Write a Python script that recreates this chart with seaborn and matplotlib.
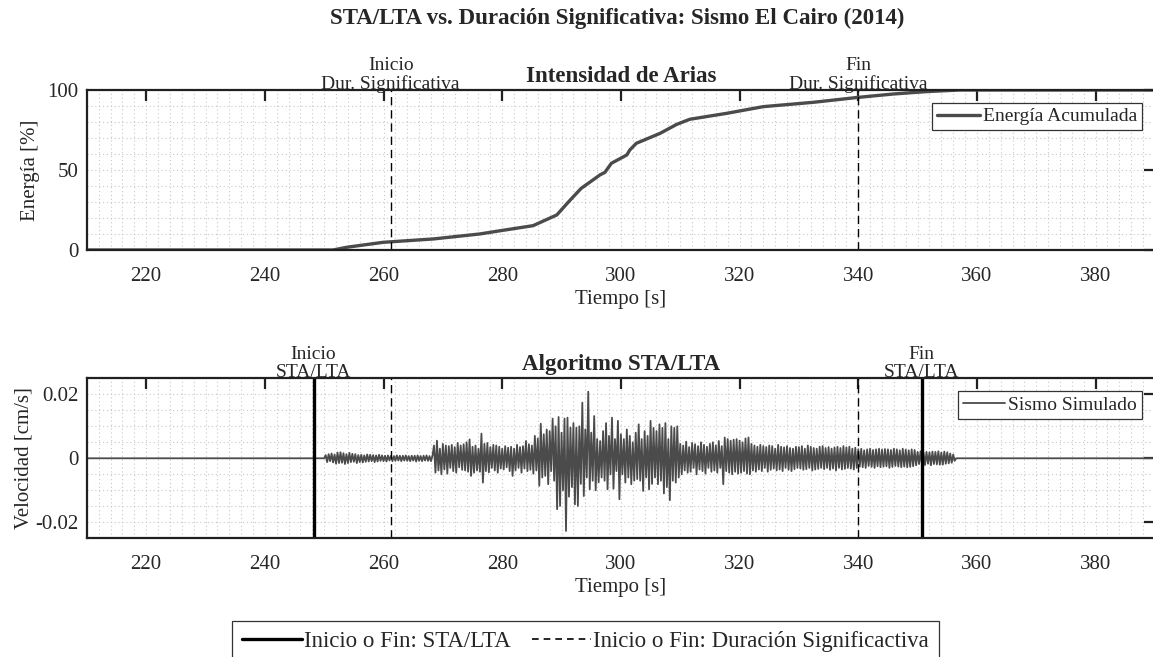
import numpy as np
import pandas as pd
import matplotlib
matplotlib.use("Agg")
import matplotlib.pyplot as plt
from matplotlib.ticker import MultipleLocator, FixedLocator
from matplotlib.lines import Line2D
import seaborn as sns

# ---------------------------------------------------------------------------
# Data
# ---------------------------------------------------------------------------
# Cumulative Arias intensity, % of total energy
energy_time = [210.0, 251.5, 253.8, 259.95, 268.4, 276.2, 279.6, 285.2, 289.2,
               291.4, 293.3, 295.3, 296.5, 297.3, 298.4, 301.0, 301.5, 302.6,
               306.6, 309.4, 311.6, 317.8, 324.0, 332.4, 340.0, 345.9, 351.5,
               357.1, 390.0]
energy_pct = [0.0, 0.0, 1.7, 4.8, 6.9, 10.0, 12.0, 15.2, 21.9,
              31.0, 38.5, 43.8, 47.0, 48.5, 54.2, 59.4, 62.5, 66.7,
              72.9, 78.5, 81.7, 85.4, 89.6, 92.3, 95.4, 97.5, 99.0,
              100.0, 100.0]

# Simulated ground velocity, samples every 0.25 s from 250 s (units of 1e-4 cm/s)
vel_start = 250.0
vel_step = 0.25
vel_250 = [0, 10, -12, 13, -9, 15, -13, 12, -17, 18, -15, 19, -14, 16, -18, 13, -15, 17, -12, 14,
           -11, 13, -15, 10, -12, 11, -13, 9, -11, 12, -10, 11, -9, 10, -12, 9, -10, 11, -8, 9]
vel_260 = [-9, 8, -10, 9, -7, 8, -9, 7, -8, 9, -7, 8, -9, 8, -7, 9, -8, 7, -9, 8,
           -7, 8, -10, 9, -8, 7, -9, 8, -7, 9, -8, 7, -9, 8, 40, -45, 55, -38, 30, -50]
vel_270 = [45, -35, 40, -48, 38, -30, 42, -40, 35, -45, 48, -28, 40, -36, 44, -38, 50, -42, 59, -55,
           36, -45, 40, -38, 30, -42, 77, -76, 45, -40, 48, -44, 35, -30, 42, -38, 40, -45, 36, -32]
vel_280 = [30, -35, 38, -28, 33, -40, 36, -55, 30, -38, 42, -30, 35, -45, 38, -32, 54, -40, 44, -36,
           40, -48, 70, -38, 62, -86, 108, -60, 75, -55, 90, -81, 85, -40, 124, -70, 100, -159, 129, -149]
vel_290 = [80, -100, 124, -227, 127, -120, 96, -90, 110, -144, 96, -149, 100, -80, 174, -118, 90, -60, 208, -97,
           80, -70, 132, -100, 60, -75, 54, -60, 85, -70, 110, -97, 70, -50, 127, -95, 60, -40, 117, -128]
vel_300 = [75, -50, 60, -76, 90, -60, 70, -81, 50, -70, 80, -65, 106, -70, 60, -102, 85, -60, 70, -97,
           117, -80, 95, -60, 85, -81, 106, -70, 95, -110, 110, -90, 60, -131, 100, -70, 95, -76, 100, -60]
vel_310 = [45, -50, 40, -38, 52, -45, 35, -42, 48, -30, 44, -50, 38, -35, 50, -40, 42, -48, 36, -30,
           45, -42, 50, -38, 40, -45, 54, -30, 38, -81, 65, -40, 60, -45, 55, -50, 58, -42, 60, -48]
vel_320 = [55, -45, 50, -40, 62, -48, 65, -50, 45, -38, 40, -42, 36, -35, 42, -40, 38, -30, 35, -42,
           40, -36, 38, -32, 30, -38, 42, -35, 36, -40, 34, -30, 38, -36, 32, -40, 30, -34, 36, -30]
vel_330 = [35, -32, 38, -36, 30, -34, 40, -30, 36, -38, 32, -35, 30, -33, 36, -30, 38, -34, 32, -30,
           35, -36, 30, -32, 34, -38, 36, -30, 32, -35, 38, -33, 34, -30, 36, -32, 30, -35, 33, -30]
vel_340 = [28, -26, 30, -28, 25, -30, 28, -24, 30, -27, 26, -30, 28, -25, 30, -28, 27, -26, 29, -25,
           28, -30, 26, -27, 30, -24, 28, -26, 25, -28, 30, -26, 27, -28, 25, -27, 28, -25, 26, -22]
vel_350 = [20, -18, 22, -20, 18, -21, 20, -17, 19, -22, 21, -18, 20, -19, 22, -20, 18, -20, 21, -17,
           19, -16, 15, -14, 12, -8]

# Event markers [s]
sta_lta_marks = [248.2, 350.7]
dur_sig_marks = [261.2, 340.0]
sta_lta_labels = ["Inicio\nSTA/LTA", "Fin\nSTA/LTA"]
dur_sig_labels = ["Inicio\nDur. Significativa", "Fin\nDur. Significativa"]

x_ticks = [220, 240, 260, 280, 300, 320, 340, 360, 380]
energy_ticks = [0, 50, 100]
vel_ticks = [-0.02, 0, 0.02]

# ---------------------------------------------------------------------------
# Assemble the velocity record (quiet before and after the event)
# ---------------------------------------------------------------------------
vel_samples = np.concatenate([vel_250, vel_260, vel_270, vel_280, vel_290, vel_300,
                              vel_310, vel_320, vel_330, vel_340, vel_350]) * 1e-4
vel_times = vel_start + vel_step * np.arange(len(vel_samples))
vel_df = pd.DataFrame({
    "t": np.concatenate([[210.0], vel_times, [vel_times[-1] + vel_step, 390.0]]),
    "v": np.concatenate([[0.0], vel_samples, [0.0, 0.0]]),
})
energy_df = pd.DataFrame({"t": energy_time, "e": energy_pct})

# ---------------------------------------------------------------------------
# Style
# ---------------------------------------------------------------------------
sns.set_theme(style="white")
plt.rcParams["font.family"] = ["Liberation Serif", "DejaVu Serif"]
plt.rcParams["axes.unicode_minus"] = False

LINE_COLOR = "#4b4b4b"
SPINE_COLOR = "#202020"
FS = 15

fig = plt.figure(figsize=(11.53, 6.57), dpi=100)
ax1 = fig.add_axes([0.0753, 0.6195, 0.9264, 0.2435])
ax2 = fig.add_axes([0.0753, 0.1807, 0.9264, 0.2435])


def style_axes(ax, ymajor, yminor):
    ax.set_xlim(210, 390)
    ax.xaxis.set_major_locator(FixedLocator(x_ticks))
    ax.xaxis.set_minor_locator(MultipleLocator(2))
    ax.yaxis.set_major_locator(FixedLocator(ymajor))
    ax.yaxis.set_minor_locator(MultipleLocator(yminor))
    ax.set_axisbelow(True)
    ax.grid(which="both", linestyle=(0, (1, 2.5)), color="#c8c8c8", linewidth=0.8)
    ax.tick_params(which="major", direction="in", length=8, width=1.6,
                   color=SPINE_COLOR, top=True, right=True, labelsize=FS)
    ax.tick_params(axis="x", which="major", pad=12)
    ax.tick_params(axis="y", which="major", pad=6)
    ax.tick_params(which="minor", length=0, top=True, right=True)
    for sp in ax.spines.values():
        sp.set_visible(True)
        sp.set_linewidth(1.6)
        sp.set_color(SPINE_COLOR)
    ax.set_xlabel("Tiempo [s]", fontsize=FS, labelpad=3)


def mark_label(ax, x, text):
    ax.annotate(text, xy=(x, 1.0), xycoords=("data", "axes fraction"),
                xytext=(0, -2), textcoords="offset points",
                ha="center", va="bottom", fontsize=14, linespacing=1.1)


# --- Arias intensity --------------------------------------------------------
sns.lineplot(data=energy_df, x="t", y="e", ax=ax1, color=LINE_COLOR,
             linewidth=2.4, label="Energía Acumulada")
for x in dur_sig_marks:
    ax1.axvline(x, color="black", linewidth=1.0, linestyle=(0, (6, 3.5)))
ax1.set_ylim(0, 100)
style_axes(ax1, energy_ticks, 10)
ax1.set_ylabel("Energía [%]", fontsize=FS, labelpad=5)
ax1.set_title("Intensidad de Arias", fontsize=16.5, fontweight="bold", pad=6)
for x, s in zip(dur_sig_marks, dur_sig_labels):
    mark_label(ax1, x, s)

# --- STA/LTA ------------------------------------------------------------------
sns.lineplot(data=vel_df, x="t", y="v", ax=ax2, color=LINE_COLOR,
             linewidth=1.3, label="Sismo Simulado")
for x in sta_lta_marks:
    ax2.axvline(x, color="black", linewidth=2.4)
for x in dur_sig_marks:
    ax2.axvline(x, color="black", linewidth=1.0, linestyle=(0, (6, 3.5)))
ax2.set_ylim(-0.025, 0.025)
style_axes(ax2, vel_ticks, 0.005)
ax2.set_yticklabels(["-0.02", "0", "0.02"])
ax2.set_ylabel("Velocidad [cm/s]", fontsize=FS, labelpad=1)
ax2.set_title("Algoritmo STA/LTA", fontsize=16.5, fontweight="bold", pad=6)
for x, s in zip(sta_lta_marks, sta_lta_labels):
    mark_label(ax2, x, s)

# In-axes legends
axw_px = 0.9264 * 1153
axh_px = 0.2435 * 657
for ax in (ax1, ax2):
    leg = ax.legend(loc="upper right", bbox_to_anchor=(1 - 13 / axw_px, 1 - 13 / axh_px),
                    borderaxespad=0, fontsize=14, frameon=True, fancybox=False,
                    framealpha=1, edgecolor="#333333", handlelength=2.2,
                    handletextpad=0.15, borderpad=0.25)
    leg.get_frame().set_linewidth(0.9)

# Shared legend for the event markers
handles = [Line2D([], [], color="black", linewidth=2.4),
           Line2D([], [], color="black", linewidth=1.2, linestyle=(0, (4, 3)))]
flg = fig.legend(handles, ["Inicio o Fin: STA/LTA", "Inicio o Fin: Duración Significactiva"],
                 loc="upper center", bbox_to_anchor=(0.508, 0.055), borderaxespad=0,
                 ncol=2, fontsize=16.5, frameon=True, fancybox=False, framealpha=1,
                 edgecolor="#333333", handlelength=2.6, handletextpad=0.1,
                 columnspacing=0.9, borderpad=0.45)
flg.get_frame().set_linewidth(0.9)

fig.text(0.535, 0.988, "STA/LTA vs. Duración Significativa: Sismo El Cairo (2014)",
         ha="center", va="top", fontsize=16.5, fontweight="bold")

fig.savefig("out.png", dpi=100, facecolor="white")
